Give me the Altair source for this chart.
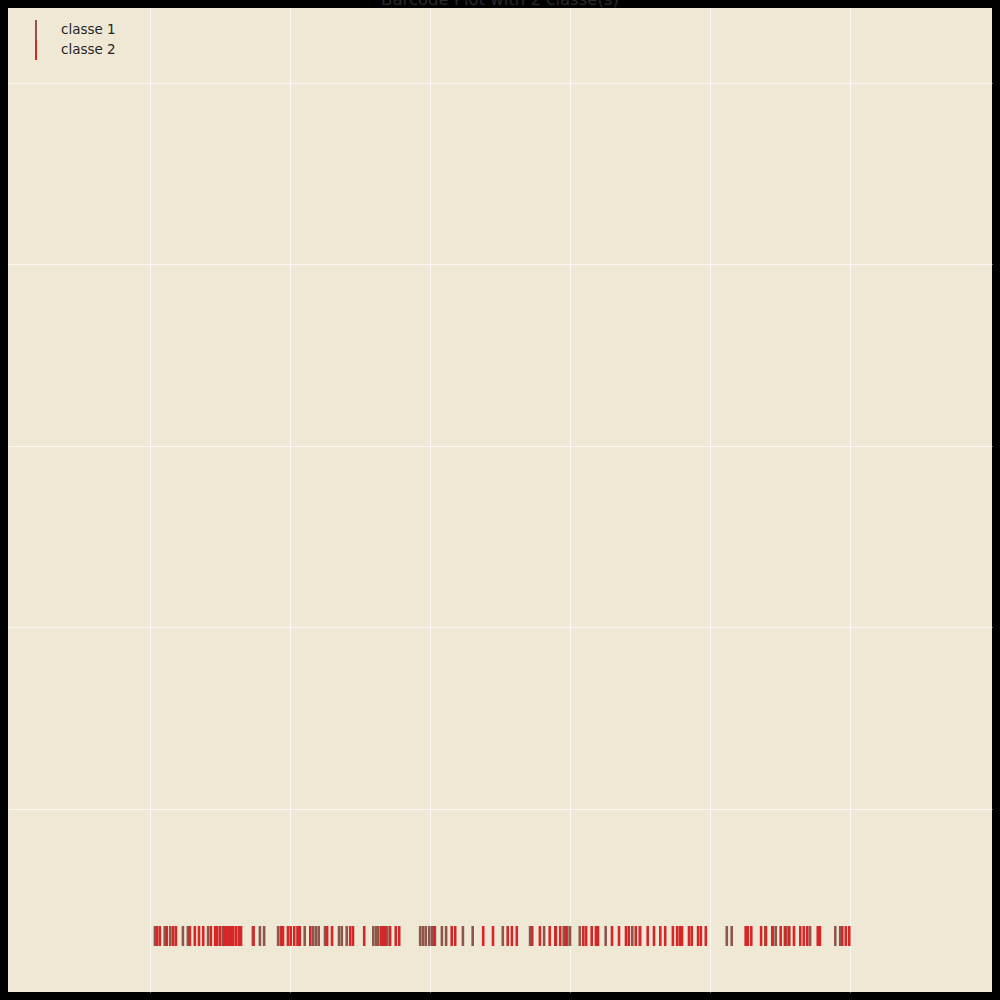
import altair as alt
import pandas as pd

# Event positions (x, in data units 0..1) for each class
classe1_x = [0.007, 0.021, 0.029, 0.047, 0.054, 0.083, 0.104, 0.110, 0.147, 0.157,
             0.163, 0.183, 0.211, 0.221, 0.233, 0.237, 0.241, 0.250, 0.270, 0.274,
             0.281, 0.319, 0.323, 0.326, 0.339, 0.386, 0.390, 0.394, 0.399, 0.403,
             0.407, 0.417, 0.423, 0.447, 0.461, 0.504, 0.543, 0.563, 0.580, 0.591,
             0.596, 0.600, 0.614, 0.651, 0.689, 0.700, 0.824, 0.831, 0.879, 0.890,
             0.894, 0.909, 0.913, 0.943, 0.979, 0.986]
classe2_x = [0.010, 0.014, 0.024, 0.033, 0.037, 0.057, 0.064, 0.070, 0.076, 0.087,
             0.093, 0.096, 0.100, 0.106, 0.109, 0.113, 0.116, 0.119, 0.123, 0.127,
             0.130, 0.148, 0.187, 0.190, 0.201, 0.206, 0.197, 0.211, 0.214, 0.229,
             0.253, 0.260, 0.286, 0.290, 0.306, 0.330, 0.333, 0.336, 0.343, 0.351,
             0.356, 0.406, 0.431, 0.436, 0.476, 0.490, 0.511, 0.517, 0.524, 0.546,
             0.557, 0.571, 0.579, 0.586, 0.594, 0.619, 0.623, 0.631, 0.637, 0.640,
             0.660, 0.670, 0.680, 0.684, 0.694, 0.700, 0.711, 0.720, 0.729, 0.736,
             0.747, 0.753, 0.757, 0.760, 0.770, 0.774, 0.783, 0.787, 0.794, 0.851,
             0.854, 0.859, 0.873, 0.880, 0.889, 0.901, 0.907, 0.913, 0.920, 0.929,
             0.934, 0.939, 0.954, 0.957, 0.989, 0.994, 0.999]

class_names = ["classe 1", "classe 2"]
class_colors = ["#8C564B", "#D62728"]
title_text = "Barcode Plot with 2 classe(s)"

x_grid = [0.0, 0.2, 0.4, 0.6, 0.8, 1.0]
y_grid = [0.7, 1.7, 2.7, 3.7, 4.7]
x_domain = [-0.2029, 1.2029]
y_domain = [-0.3085, 5.113]

rows = [{"x": v, "lane": 0.0, "classe": class_names[0]} for v in classe1_x] + \
       [{"x": v, "lane": 0.0, "classe": class_names[1]} for v in classe2_x]
df = pd.DataFrame(rows)

bars = alt.Chart(df).mark_tick(orient="vertical", thickness=2.6, size=20, opacity=1).encode(
    x=alt.X("x:Q", scale=alt.Scale(domain=x_domain, nice=False, zero=False),
            axis=alt.Axis(values=x_grid, grid=True, labels=False, ticks=False,
                          domain=False, title=None)),
    y=alt.Y("lane:Q", scale=alt.Scale(domain=y_domain, nice=False, zero=False),
            axis=alt.Axis(values=y_grid, grid=True, labels=False, ticks=False,
                          domain=False, title=None)),
    color=alt.Color("classe:N",
                    scale=alt.Scale(domain=class_names, range=class_colors),
                    legend=alt.Legend(title=None, orient="none", legendX=18, legendY=12,
                                      symbolType="M-0.1,-1L0.1,-1L0.1,1L-0.1,1Z",
                                      symbolSize=400, symbolStrokeWidth=0,
                                      symbolOpacity=1,
                                      labelFontSize=13.5, labelColor="#262626",
                                      labelFont="DejaVu Sans", labelOffset=15,
                                      rowPadding=-1, padding=0)),
)

title_df = pd.DataFrame({"t": [title_text]})
title = alt.Chart(title_df).mark_text(
    fontSize=16.5, font="DejaVu Sans", color="#2a2a2a", baseline="alphabetic", align="center"
).encode(text="t:N", x=alt.value(492), y=alt.value(-3))

chart = alt.layer(bars, title).properties(
    width=984, height=984, background="black", padding=8,
    autosize=alt.AutoSizeParams(type="none"),
).configure_view(fill="#EEE8D5", stroke=None).configure_axis(
    gridColor="#FFFFFF", gridOpacity=0.75, gridWidth=1
)

chart.save("out.html", embed_options={"renderer": "svg", "actions": False})
